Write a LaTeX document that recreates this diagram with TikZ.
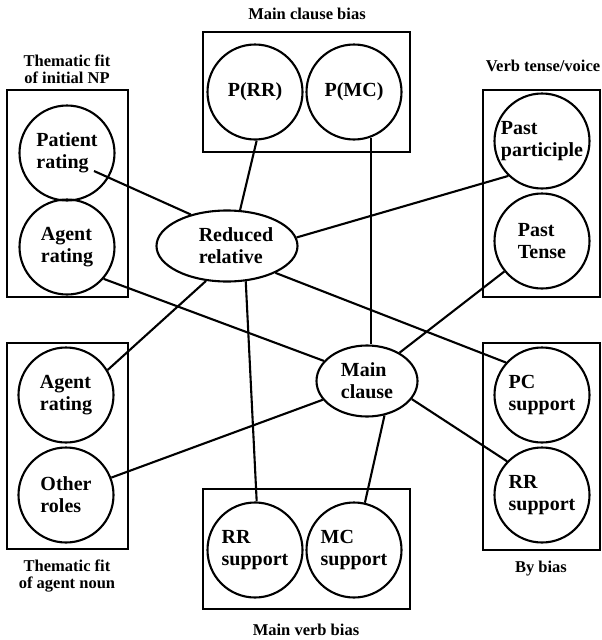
\documentclass[tikz,border=0pt]{standalone}
\usepackage{fontspec}
\setmainfont{Liberation Serif}
\usetikzlibrary{shapes.geometric,calc}
\begin{document}
\begin{tikzpicture}[x=1pt,y=-1pt,
  grp/.style={draw,line width=2.2pt},
  unit/.style={draw,circle,line width=2.1pt,minimum size=95pt,inner sep=0pt,
    align=left,font=\fontsize{20}{22}\selectfont\bfseries},
  bubble/.style={draw,ellipse,line width=2.1pt,inner sep=0pt},
  bubbletext/.style={align=left,font=\fontsize{20}{22}\selectfont\bfseries},
  link/.style={line width=2.1pt},
  caption/.style={align=center,font=\fontsize{16.5}{17}\selectfont\bfseries,anchor=base}]
\useasboundingbox (0,0) rectangle (602,640);

% group frames
\draw[grp] (7,90) rectangle (128,297);
\draw[grp] (7,343) rectangle (128,549);
\draw[grp] (483,90) rectangle (600,297);
\draw[grp] (483,343) rectangle (600,550);
\draw[grp] (203,32) rectangle (410,152);
\draw[grp] (203,489) rectangle (410,609);

% group captions (two-line captions sit on their last baseline)
\node[caption] (capmc) at (307,19) {Main clause bias};
\node[caption] (capnp) at (67,83) {Thematic fit\\of initial NP};
\node[caption] (capvt) at (543,71) {Verb tense/voice};
\node[caption] (capag) at (67,588) {Thematic fit\\of agent noun};
\node[caption] (capby) at (541,572) {By bias};
\node[caption] (capmv) at (306,635) {Main verb bias};

% input units
\node[unit] (pat) at (67,153) {Patient\\rating};
\node[unit] (agt1) at (67,247) {Agent\\rating};
\node[unit] (agt2) at (66,395) {Agent\\rating};
\node[unit] (oth) at (66,495) {Other\\roles};
\node[unit] (pp) at (542,141) {Past\\participle};
\node[unit] (pt) at (542,241) {Past\\Tense};
\node[unit] (pc) at (542,395) {PC\\support};
\node[unit] (rrs) at (542,495) {RR\\support};
\node[unit] (prr) at (255,92) {P(RR)};
\node[unit] (pmc) at (354,92) {P(MC)};
\node[unit] (rrv) at (255,550) {RR\\support};
\node[unit] (mcv) at (354,550) {MC\\support};

% interpretation units
\node[bubble,minimum width=141pt,minimum height=71pt] (red) at (227,246) {};
\node[bubbletext] (redtext) at ($(red.center)+(9,0)$) {Reduced\\relative};
\node[bubble,minimum width=101pt,minimum height=71pt] (mcl) at (367,381) {};
\node[bubbletext] (mcltext) at (mcl.center) {Main\\clause};

% connections
\draw[link] ($(pat.center)+(27,18)$) -- (red.139);
\draw[link] (prr.-88) -- (red.70);
\draw[link] (pp.-134) -- (red.7);
\draw[link] (agt1.-41) -- (mcl.155);
\draw[link] (red.-29) -- (pc.138);
\draw[link] (red.-62) -- (rrv.88);
\draw[link] (red.-121) -- (agt2.31);
\draw[link] (pmc.-70) -- (mcl.north -| pmc.-70);
\draw[link] (pt.-141) -- (mcl.41);
\draw[link] (oth.21) -- (mcl.-157);
\draw[link] (mcl.-22) -- (rrs.136);
\draw[link] (mcl.-63) -- (mcv.77);
\end{tikzpicture}
\end{document}
